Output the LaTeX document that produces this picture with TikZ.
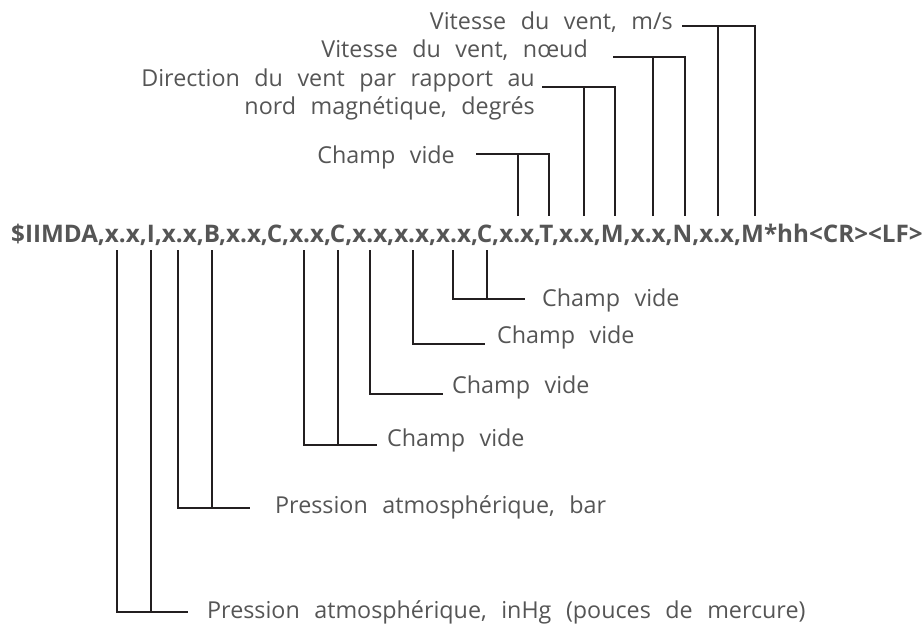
\documentclass[tikz,border=0pt]{standalone}
\usepackage{fontspec}
\setmainfont{Open Sans}[WordSpace=2.4]
\usepackage{tikz}
\definecolor{txtgray}{RGB}{85,85,85}
\definecolor{linegray}{RGB}{35,31,32}

\begin{document}
\begin{tikzpicture}
    [
      x=1pt, y=-1pt,
      every node/.style = {inner sep=0pt, text=txtgray},
      field/.style = {font=\fontsize{23.3}{28}\selectfont},
      sentence/.style = {font=\fontsize{24.2}{28}\selectfont\bfseries},
      bracket/.style = {draw=linegray, line width=1.8pt},
    ]
    \useasboundingbox (0,0) rectangle (922,629);

    \node[sentence, anchor=base west] (msg) at (11,242)
      {\$IIMDA,x.x,I,x.x,B,x.x,C,x.x,C,x.x,x.x,x.x,C,x.x,T,x.x,M,x.x,N,x.x,M*hh<CR><LF>};

    % feet of the brackets above the sentence
    \coordinate (tA1) at (518,216);
    \coordinate (tA2) at (549,216);
    \coordinate (tB1) at (584,216);
    \coordinate (tB2) at (615,216);
    \coordinate (tC1) at (653,216);
    \coordinate (tC2) at (685,216);
    \coordinate (tD1) at (718,216);
    \coordinate (tD2) at (755,216);

    % feet of the brackets below the sentence
    \coordinate (b1) at (117,250);
    \coordinate (b2) at (151,250);
    \coordinate (b3) at (178,250);
    \coordinate (b4) at (212,250);
    \coordinate (b5) at (304,250);
    \coordinate (b6) at (338,250);
    \coordinate (b7) at (370,250);
    \coordinate (b8) at (413,250);
    \coordinate (b9) at (453,250);
    \coordinate (b10) at (487,250);

    % loose ends next to the texts
    \coordinate (eA) at (476,154);
    \coordinate (eB) at (542,87);
    \coordinate (eC) at (613,57);
    \coordinate (eD) at (682,26);
    \coordinate (e1) at (188,612);
    \coordinate (e2) at (250,508);
    \coordinate (e3) at (377,445);
    \coordinate (e4) at (443,394);
    \coordinate (e5) at (485,344);
    \coordinate (e6) at (525,299);

    \node[field, anchor=east] (ms) at (673,22) {Vitesse du vent, m/s};
    \node[field, anchor=east] (noeud) at (588,50) {Vitesse du vent, nœud};
    \node[field, anchor=east, align=right] (dir) at (535,94)
      {Direction du vent par rapport au\\nord magnétique, degrés};
    \node[field, anchor=east] (videT) at (455,157) {Champ vide};

    \node[field, anchor=west] (inhg) at (207,612) {Pression atmosphérique, inHg (pouces de mercure)};
    \node[field, anchor=west] (bar) at (275,507) {Pression atmosphérique, bar};
    \node[field, anchor=west] (vide4) at (387,440) {Champ vide};
    \node[field, anchor=west] (vide3) at (452,387) {Champ vide};
    \node[field, anchor=west] (vide2) at (497,337) {Champ vide};
    \node[field, anchor=west] (vide1) at (542,300) {Champ vide};

    \draw[bracket] (eA) -| (tA2);
    \draw[bracket] (tA1) -- (tA1 |- eA);
    \draw[bracket] (eB) -| (tB2);
    \draw[bracket] (tB1) -- (tB1 |- eB);
    \draw[bracket] (eC) -| (tC2);
    \draw[bracket] (tC1) -- (tC1 |- eC);
    \draw[bracket] (eD) -| (tD2);
    \draw[bracket] (tD1) -- (tD1 |- eD);

    \draw[bracket] (b1) |- (e1);
    \draw[bracket] (b2) -- (b2 |- e1);
    \draw[bracket] (b3) |- (e2);
    \draw[bracket] (b4) -- (b4 |- e2);
    \draw[bracket] (b5) |- (e3);
    \draw[bracket] (b6) -- (b6 |- e3);
    \draw[bracket] (b7) |- (e4);
    \draw[bracket] (b8) |- (e5);
    \draw[bracket] (b9) |- (e6);
    \draw[bracket] (b10) -- (b10 |- e6);
  \end{tikzpicture}
\end{document}
